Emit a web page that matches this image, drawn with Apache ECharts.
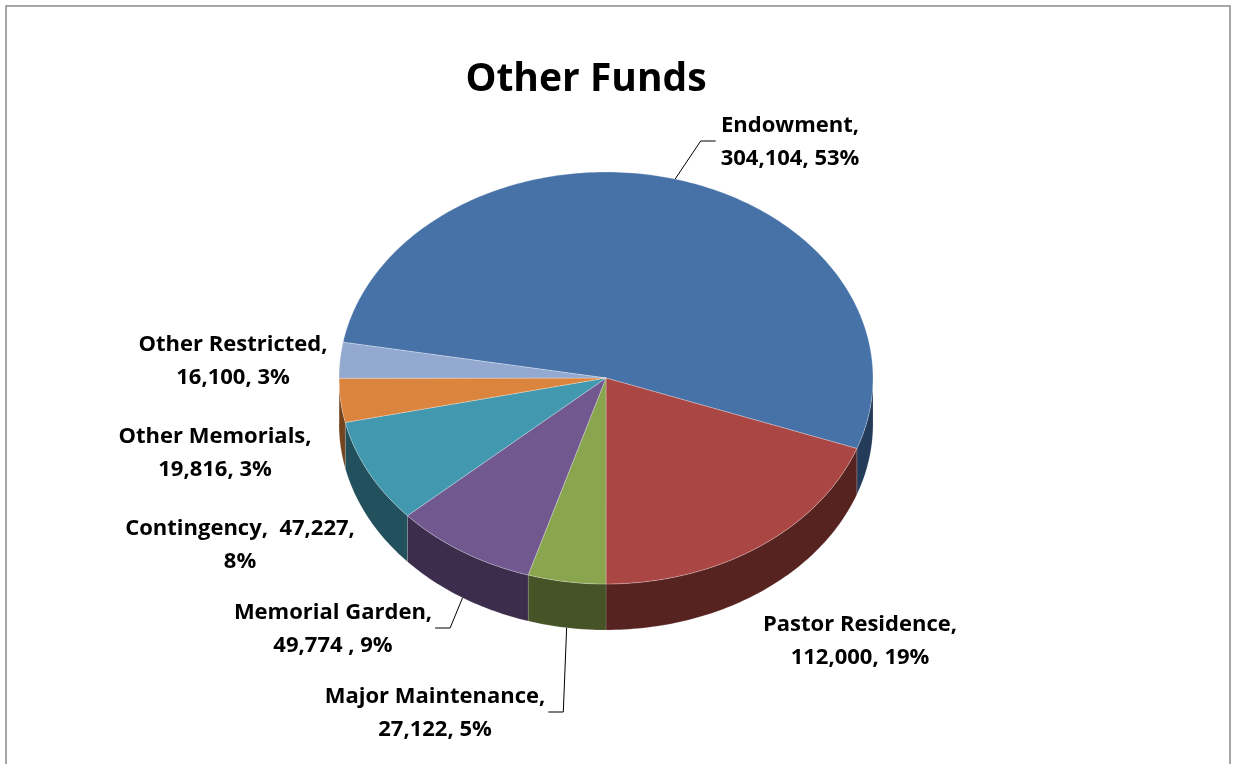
<!DOCTYPE html>
<html>
<head>
<meta charset="utf-8">
<title>Other Funds</title>
<script src="https://cdn.jsdelivr.net/npm/echarts@6/dist/echarts.min.js"></script>
<style>
  html, body { margin: 0; padding: 0; background: #ffffff; }
  #chart { width: 1233px; height: 764px; }
</style>
</head>
<body>
<div id="chart"></div>
<script>
// ---- data ----
const chartTitle = 'Other Funds';
const categories = ['Endowment', 'Pastor Residence', 'Major Maintenance', 'Memorial Garden',
                    'Contingency', 'Other Memorials', 'Other Restricted'];
const values = [304104, 112000, 27122, 49774, 47227, 19816, 16100];
// how each data label is laid out: {n} name, {v} value, {p} percent
const labelTemplates = ['{n},\n{v}, {p}', '{n},\n{v}, {p}', '{n},\n{v}, {p}', '{n},\n{v} , {p}',
                        '{n},  {v},\n{p}', '{n},\n{v}, {p}', '{n},\n{v}, {p}'];

// ---- style & layout ----
const topColors  = ['#4672A8', '#AA4643', '#89A54E', '#71588F', '#4198AF', '#DB843D', '#93A9CF'];
const sideColors = ['#243B59', '#572321', '#465326', '#3B2D4B', '#22505C', '#74441F', '#4C5A72'];
const disc = { cx: 606, cy: 378, rx: 267, ry: 206, depth: 46, startAngle: 280 };
const labelCenters = [[790, 142], [860, 641], [435, 713], [333, 629], [240, 545], [215, 453], [233, 361]];
const hasLeader = [true, false, true, true, false, false, false];
const FONT = 'Open Sans';
const LABEL_SIZE = 22;
const LABEL_LINE = 33;

// ---- helpers ----
const total = values.reduce((a, b) => a + b, 0);
const fmt = v => v.toLocaleString('en-US');
const slices = [];
{
  let acc = disc.startAngle;
  values.forEach((v, i) => {
    const sweep = v / total * 360;
    slices.push({ a1: acc, a2: acc + sweep, mid: acc + sweep / 2 });
    acc += sweep;
  });
}
function pt(angle, dy) {
  const r = angle * Math.PI / 180;
  return [disc.cx + disc.rx * Math.sin(r), disc.cy - disc.ry * Math.cos(r) + (dy || 0)];
}
function arc(a1, a2, dy) {
  const pts = [];
  const n = Math.max(2, Math.ceil(Math.abs(a2 - a1)));
  for (let k = 0; k <= n; k++) pts.push(pt(a1 + (a2 - a1) * k / n, dy));
  return pts;
}
const measureCtx = document.createElement('canvas').getContext('2d');
function lineWidth(text) {
  measureCtx.font = 'bold ' + LABEL_SIZE + 'px "' + FONT + '"';
  return Math.max.apply(null, text.split('\n').map(s => measureCtx.measureText(s).width));
}
function labelText(i) {
  const pct = Math.round(values[i] / total * 100) + '%';
  return labelTemplates[i].replace('{n}', categories[i]).replace('{v}', fmt(values[i])).replace('{p}', pct);
}

// outer walls (front half of the disc only) + top faces
function renderSlice(params, api) {
  const i = params.dataIndex;
  const s = slices[i];
  const children = [];
  for (const k of [-360, 0, 360]) {
    const lo = Math.max(s.a1, 90 + k), hi = Math.min(s.a2, 270 + k);
    if (hi > lo) {
      const top = arc(lo, hi, 0);
      const bottom = arc(hi, lo, disc.depth);
      children.push({
        type: 'polygon',
        shape: { points: top.concat(bottom) },
        style: { fill: sideColors[i], stroke: 'rgba(255,255,255,0.18)', lineWidth: 0.8 }
      });
    }
  }
  children.push({
    type: 'polygon',
    shape: { points: [[disc.cx, disc.cy]].concat(arc(s.a1, s.a2, 0)) },
    style: { fill: topColors[i], stroke: 'rgba(255,255,255,0.35)', lineWidth: 0.8 }
  });
  return { type: 'group', children };
}

function renderLabel(params, api) {
  const i = params.dataIndex;
  const s = slices[i];
  const text = labelText(i);
  const [lx, ly] = labelCenters[i];
  const children = [{
    type: 'text',
    x: lx, y: ly,
    style: {
      text, fill: '#000000', align: 'center', verticalAlign: 'middle',
      fontFamily: FONT, fontWeight: 'bold', fontSize: LABEL_SIZE, lineHeight: LABEL_LINE
    }
  }];
  if (hasLeader[i]) {
    const front = Math.cos(s.mid * Math.PI / 180) < 0;
    const anchor = pt(s.mid, front ? disc.depth : 0);
    const half = lineWidth(text) / 2;
    const right = lx > anchor[0];
    const endX = right ? lx - half - 5 : lx + half + 3;
    const bendX = right ? endX - 15 : endX + 15;
    const y = ly - 1;
    children.push({
      type: 'polyline',
      shape: { points: [anchor, [bendX, y], [endX, y]] },
      style: { stroke: '#000000', lineWidth: 1, fill: null }
    });
  }
  return { type: 'group', children };
}

const chart = echarts.init(document.getElementById('chart'), null, { renderer: 'canvas' });
chart.setOption({
  backgroundColor: '#ffffff',
  animation: false,
  graphic: [
    {
      type: 'rect', z: 0,
      shape: { x: 6, y: 6, width: 1224, height: 820 },
      style: { fill: null, stroke: '#8A8A8A', lineWidth: 1.5 }
    },
    {
      type: 'text', z: 10,
      x: 586, y: 80,
      style: {
        text: chartTitle, fill: '#000000', align: 'center', verticalAlign: 'middle',
        fontFamily: FONT, fontWeight: 'bold', fontSize: 39
      }
    }
  ],
  series: [
    {
      type: 'custom', coordinateSystem: 'none', silent: true, z: 2,
      data: values.map((v, i) => [i, v]),
      renderItem: renderSlice
    },
    {
      type: 'custom', coordinateSystem: 'none', silent: true, z: 3,
      data: values.map((v, i) => [i, v]),
      renderItem: renderLabel
    }
  ]
});
</script>
</body>
</html>
